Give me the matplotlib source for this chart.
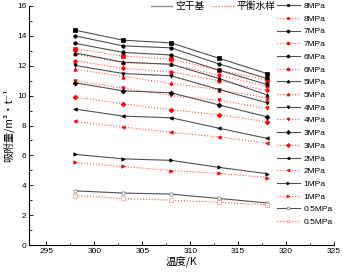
import matplotlib
matplotlib.use('Agg')
import matplotlib.pyplot as plt
from matplotlib.lines import Line2D
import numpy as np

plt.rcParams['font.family'] = ['Liberation Sans', 'Noto Sans CJK SC', 'DejaVu Sans']

# ---- data ----
temps = [298, 303, 308, 313, 318]
pressures = ['8MPa', '7MPa', '6MPa', '5MPa', '4MPa', '3MPa', '2MPa', '1MPa', '0.5MPa']

dry = [  # 空干基
    [14.38, 13.71, 13.53, 12.50, 11.48],
    [14.00, 13.33, 13.20, 12.12, 11.15],
    [13.50, 12.89, 12.72, 11.70, 10.75],
    [12.86, 12.24, 12.10, 11.15, 10.05],
    [12.02, 11.48, 11.33, 10.41, 9.52],
    [10.86, 10.32, 10.19, 9.38, 8.58],
    [9.10, 8.63, 8.52, 7.82, 7.14],
    [6.07, 5.77, 5.67, 5.20, 4.78],
    [3.63, 3.48, 3.41, 3.12, 2.82],
]
wet = [  # 平衡水样
    [13.15, 12.64, 12.45, 11.70, 11.04],
    [12.78, 12.20, 12.10, 11.37, 10.62],
    [12.35, 11.82, 11.60, 10.99, 10.35],
    [11.77, 11.28, 10.82, 10.40, 9.85],
    [11.00, 10.50, 10.01, 9.70, 9.14],
    [9.90, 9.46, 9.05, 8.72, 8.25],
    [8.27, 7.90, 7.54, 7.24, 6.82],
    [5.53, 5.26, 4.99, 4.80, 4.52],
    [3.30, 3.12, 3.00, 2.86, 2.70],
]
markers = ['s', 'o', 'o', '^', 'v', 'D', '<', '>', 'o']

fig = plt.figure(figsize=(3.43, 2.72), dpi=100)
ax = fig.add_axes([0.085, 0.099, 0.889, 0.879])

handles = []
for i, p in enumerate(pressures):
    mfc_b = 'white' if p == '0.5MPa' else 'black'
    mfc_r = 'white' if p == '0.5MPa' else 'red'
    mk_r = 's' if p == '0.5MPa' else markers[i]
    h1, = ax.plot(temps, dry[i], color='#505050', lw=0.8, marker=markers[i],
                  ms=2.5, mfc=mfc_b, mec='black' if p != '0.5MPa' else '#707070',
                  mew=0.5, label=p)
    h2, = ax.plot(temps, wet[i], color='#ff5050', lw=0.8, ls=':', marker=mk_r,
                  ms=2.5, mfc=mfc_r, mec='red' if p != '0.5MPa' else '#ff9090',
                  mew=0.5, label=p)
    handles += [h1, h2]

ax.set_xlim(293.2, 325)
ax.set_ylim(0, 16)
ax.set_xticks([295, 300, 305, 310, 315, 320, 325])
ax.set_xticks(np.arange(297.5, 325, 5), minor=True)
ax.set_yticks(range(0, 17, 2))
ax.set_yticks(range(1, 16, 2), minor=True)
ax.tick_params(direction='in', labelsize=6, length=3, width=0.6, pad=2)
ax.tick_params(which='minor', direction='in', length=1.8, width=0.6)
for s in ['top', 'right']:
    ax.spines[s].set_visible(False)
for s in ['left', 'bottom']:
    ax.spines[s].set_linewidth(0.8)

ax.set_xlabel('温度/K', fontsize=7.5, family=['Noto Sans CJK SC', 'DejaVu Sans'], labelpad=1)
ax.set_ylabel('吸附量/m³·t⁻¹', fontsize=7.5, family=['Noto Sans CJK SC', 'DejaVu Sans'], labelpad=2)

# pressure legend on the right
fig.legend(handles=handles, loc='upper left', bbox_to_anchor=(0.807, 0.992),
           frameon=False, fontsize=6, handlelength=2.76, handletextpad=0.48,
           labelspacing=0.585, borderpad=0, borderaxespad=0, markerscale=0.85)

# sample type legend on top
top = [Line2D([], [], color='#909090', lw=1.0),
       Line2D([], [], color='#ff3030', lw=0.8, ls=':')]
fig.legend(handles=top, labels=['空干基', '平衡水样'], loc='upper left',
           bbox_to_anchor=(0.44, 0.995), ncol=2, frameon=False,
           prop={'family': ['Noto Sans CJK SC', 'DejaVu Sans'], 'size': 7},
           handlelength=2.2, handletextpad=0.3, columnspacing=0.8,
           borderpad=0, borderaxespad=0)

fig.savefig('out.png', dpi=100)
